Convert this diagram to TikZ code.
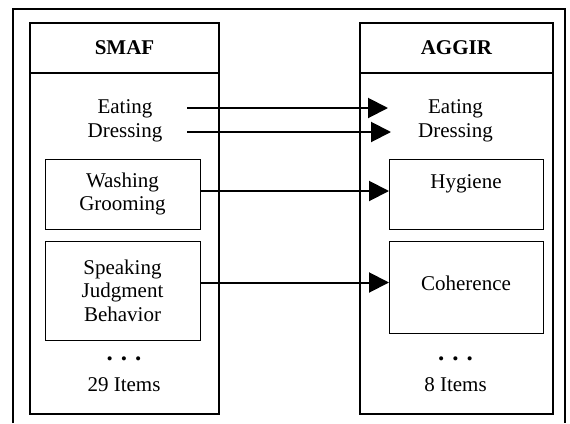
\documentclass[tikz,border=0pt]{standalone}
\usepackage{fontspec}
\setmainfont{Liberation Serif}
\usetikzlibrary{arrows.meta,calc}
\begin{document}
\begin{tikzpicture}[x=1pt,y=-1pt,
  every node/.style={font=\fontsize{21}{23.5}\selectfont, inner sep=0pt, outer sep=0pt},
  colpart/.style={draw, line width=2pt},
  itembox/.style={draw, line width=1pt, align=center},
  lbl/.style={align=center},
  dots/.style={font=\fontsize{25}{25}\selectfont\bfseries},
  conn/.style={line width=2pt, -{Triangle[length=20pt,width=20pt]}}]
\useasboundingbox (0,0) rectangle (570,423);
\fill[white] (0,0) rectangle (570,423);
\draw[line width=1.5pt] (13,423) |- (565,9) -- (565,423);
% left column
\node[colpart, minimum width=189pt, minimum height=50pt] (smafhead) at (124.5,48) {\textbf{SMAF}};
\node[colpart, minimum width=189pt, minimum height=341pt] (smafbody) at (124.5,243.5) {};
% right column
\node[colpart, minimum width=193pt, minimum height=50pt] (aggirhead) at (456.5,48) {\textbf{AGGIR}};
\node[colpart, minimum width=193pt, minimum height=341pt] (aggirbody) at (456.5,243.5) {};
% left items
\node[lbl] (eatL) at (125,109) {Eating};
\node[lbl] (dresL) at (125,133) {Dressing};
\node[itembox, minimum width=155pt, minimum height=70pt] (wash) at (122.5,194) {Washing\\Grooming};
\node[itembox, minimum width=155pt, minimum height=99pt] (speak) at (122.5,290.5) {Speaking\\Judgment\\Behavior};
\node[lbl, dots] (dotsL) at (124,359) {.\hspace{8pt}.\hspace{8pt}.};
\node[lbl] (itemsL) at (124,385) {29 Items};
% right items
\node[lbl] (eatR) at (455.5,109) {Eating};
\node[lbl] (dresR) at (455.5,133) {Dressing};
\node[itembox, minimum width=154pt, minimum height=70pt] (hygbox) at (466,194) {};
\node[lbl] (hyg) at (466,184) {Hygiene};
\node[itembox, minimum width=154pt, minimum height=92pt] (cohbox) at (466,287) {};
\node[lbl] (coh) at (466,283) {Coherence};
\node[lbl, dots] (dotsR) at (455.5,359) {.\hspace{8pt}.\hspace{8pt}.};
\node[lbl] (itemsR) at (455.5,385) {8 Items};
% connectors
\coordinate (a1s) at (187,108);
\coordinate (a1e) at (388,108);
\coordinate (a2s) at (187,132);
\coordinate (a2e) at (391,132);
\draw[conn] (a1s) -- (a1e);
\draw[conn] (a2s) -- (a2e);
\draw[conn] ([yshift=3pt]wash.east) -- ([yshift=3pt]wash.east -| hygbox.west);
\draw[conn] ([yshift=8pt]speak.east) -- ([yshift=8pt]speak.east -| cohbox.west);
\end{tikzpicture}
\end{document}
